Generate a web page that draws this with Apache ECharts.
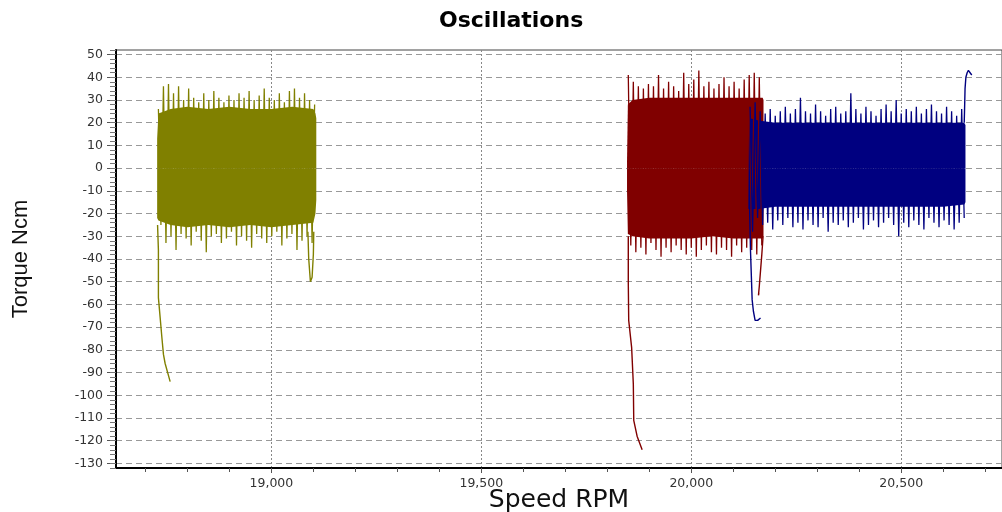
<!DOCTYPE html>
<html>
<head>
<meta charset="utf-8">
<title>Oscillations</title>
<script src="https://cdn.jsdelivr.net/npm/echarts@6/dist/echarts.min.js"></script>
<style>
  html, body { margin: 0; padding: 0; background: #fff; }
  #chart { width: 1002px; height: 512px; }
</style>
</head>
<body>
<div id="chart"></div>
<script>
// axis ticks
const speedLabels = [19000, 19500, 20000, 20500]
const speedMinor = [18700, 18800, 18900, 19000, 19100, 19200, 19300, 19400, 19500, 19600, 19700,
  19800, 19900, 20000, 20100, 20200, 20300, 20400, 20500, 20600, 20700]
const torqueLabels = [-130, -120, -110, -100, -90, -80, -70, -60, -50, -40, -30, -20, -10, 0, 10, 20, 30, 40, 50]

// olive run: dense body, oscillation peaks, run-in tail, end dip
const oliveBandSpeed = [18728, 18731, 18760, 18800, 18850, 18900, 18950, 19000, 19050, 19100, 19105, 19107]
const oliveBandHigh = [13, 24, 26, 27, 26, 27, 26, 26, 27, 26, 24, 22]
const oliveBandLow = [-22, -23, -25, -26, -25, -26, -25, -26, -25, -24, -20, -14]
const oliveSpeed = [
  18731, 18737, 18743, 18749, 18755, 18761, 18767, 18773, 18779, 18785,
  18791, 18797, 18803, 18809, 18815, 18821, 18827, 18833, 18839, 18845,
  18851, 18857, 18863, 18869, 18875, 18881, 18887, 18893, 18899, 18905,
  18911, 18917, 18923, 18929, 18935, 18941, 18947, 18953, 18959, 18965,
  18971, 18977, 18983, 18989, 18995, 19001, 19007, 19013, 19019, 19025,
  19031, 19037, 19043, 19049, 19055, 19061, 19067, 19073, 19079, 19085,
  19091, 19097, 19103]
const oliveTorque = [
  26, -25, 36, -33, 37, -30, 33, -36, 36, -29, 30, -31, 35, -34, 31, -28, 29, -32, 33, -37,
  30, -30, 34, -29, 31, -33, 29, -31, 32, -28, 30, -34, 33, -30, 31, -32, 34, -35, 30, -29,
  32, -31, 35, -33, 31, -30, 30, -28, 33, -34, 29, -31, 34, -29, 35, -36, 31, -32, 33, -30,
  30, -33, 28]
const oliveTailSpeed = [18729, 18731, 18731, 18739, 18743, 18747, 18759]
const oliveTailTorque = [-25, -36, -57, -74, -82, -86, -94]
const oliveDipSpeed = [19087, 19089, 19093, 19097, 19100, 19101]
const oliveDipTorque = [-28, -40, -50, -48, -38, -28]

// dark red run
const redBandSpeed = [19847, 19849, 19860, 19900, 19950, 20000, 20050, 20100, 20150, 20170, 20172]
const redBandHigh = [3, 28, 30, 31, 31, 31, 31, 31, 31, 31, 30]
const redBandLow = [-10, -29, -30, -31, -31, -31, -30, -31, -31, -31, -30]
const redSpeed = [
  19850, 19856, 19862, 19868, 19874, 19880, 19886, 19892, 19898, 19904,
  19910, 19916, 19922, 19928, 19934, 19940, 19946, 19952, 19958, 19964,
  19970, 19976, 19982, 19988, 19994, 20000, 20006, 20012, 20018, 20024,
  20030, 20036, 20042, 20048, 20054, 20060, 20066, 20072, 20078, 20084,
  20090, 20096, 20102, 20108, 20114, 20120, 20126, 20132, 20138, 20144,
  20150, 20156, 20162, 20168]
const redTorque = [
  41, -34, 38, -37, 36, -35, 35, -38, 37, -33, 36, -36, 41, -39, 35, -35, 38, -37, 36, -34,
  34, -36, 42, -38, 37, -35, 39, -39, 43, -36, 36, -34, 38, -37, 35, -38, 37, -35, 40, -36,
  36, -39, 38, -34, 35, -37, 39, -35, 41, -36, 42, -38, 40, -34]
const redTailSpeed = [19850, 19850, 19851, 19858, 19862, 19863, 19871, 19883]
const redTailTorque = [-30, -50, -67, -79, -95, -111, -118, -124]
const redDipSpeed = [20171, 20168, 20165, 20162, 20160, 20161]
const redDipTorque = [-30, -38, -45, -52, -56, -55]

// navy run
const blueBandSpeed = [20136, 20139, 20160, 20200, 20300, 20400, 20500, 20600, 20650, 20653]
const blueBandHigh = [17, 22, 21, 20, 20, 20, 20, 20, 20, 19]
const blueBandLow = [-18, -18, -18, -17, -17, -17, -17, -17, -16, -15]
const blueSpeed = [
  20140, 20146, 20152, 20158, 20164, 20170, 20176, 20182, 20188, 20194,
  20200, 20206, 20212, 20218, 20224, 20230, 20236, 20242, 20248, 20254,
  20260, 20266, 20272, 20278, 20284, 20290, 20296, 20302, 20308, 20314,
  20320, 20326, 20332, 20338, 20344, 20350, 20356, 20362, 20368, 20374,
  20380, 20386, 20392, 20398, 20404, 20410, 20416, 20422, 20428, 20434,
  20440, 20446, 20452, 20458, 20464, 20470, 20476, 20482, 20488, 20494,
  20500, 20506, 20512, 20518, 20524, 20530, 20536, 20542, 20548, 20554,
  20560, 20566, 20572, 20578, 20584, 20590, 20596, 20602, 20608, 20614,
  20620, 20626, 20632, 20638, 20644, 20650]
const blueTorque = [
  27, -28, 29, -22, 25, -25, 24, -24, 26, -27, 23, -23, 25, -25, 27, -22, 24, -26, 26, -24,
  31, -27, 25, -23, 24, -25, 28, -26, 25, -22, 23, -28, 26, -24, 27, -25, 24, -23, 25, -26,
  33, -24, 26, -22, 24, -27, 27, -25, 25, -23, 23, -26, 26, -24, 28, -22, 25, -25, 30, -30,
  24, -24, 26, -26, 25, -23, 27, -25, 24, -27, 26, -22, 28, -24, 25, -26, 24, -23, 27, -25,
  25, -27, 23, -24, 26, -22]
const blueTailSpeed = [20139, 20141, 20145, 20148, 20152, 20158, 20165]
const blueTailTorque = [-18, -36, -58, -63, -67, -67, -66]
const blueRiseSpeed = [20650, 20651, 20652, 20654, 20657, 20660, 20664, 20668]
const blueRiseTorque = [20, 27, 35, 40, 42, 43, 42, 41]

const OLIVE = '#808000'
const MAROON = '#800000'
const NAVY = '#000080'
const SANS = 'Liberation Sans, Arial, sans-serif'
const WIDE = 'DejaVu Sans, Verdana, sans-serif'

const zip = (xs, ys) => xs.map((x, i) => [x, ys[i]])

// body of a run: area from each envelope to the zero line, together they fill low..high
function band(name, xs, lo, hi, color) {
  return [lo, hi].map((ys, k) => ({
    type: 'line', name: name + (k ? 'High' : 'Low'),
    data: zip(xs, ys), symbol: 'none',
    lineStyle: { width: 0, opacity: 0 },
    areaStyle: { color: color, opacity: 1, origin: 0 }
  }))
}

function trace(name, xs, ys, color, width) {
  return {
    type: 'line', name: name, data: zip(xs, ys), symbol: 'none',
    lineStyle: { color: color, width: width }
  }
}

const minorTorque = []
for (let v = -132; v <= 52; v += 2) minorTorque.push(v)

const chart = echarts.init(document.getElementById('chart'))
chart.setOption({
  animation: false,
  backgroundColor: '#fff',
  title: {
    text: 'Oscillations',
    left: 434,
    top: 5,
    textStyle: { fontFamily: WIDE, fontSize: 22, fontWeight: 'bold', color: '#000' }
  },
  grid: {
    left: 116, right: 0, top: 50, bottom: 44,
    outerBoundsMode: 'none',
    show: true, borderColor: '#444', borderWidth: 1, backgroundColor: '#fff'
  },
  xAxis: [{
    type: 'value',
    min: 18630,
    max: 20740,
    position: 'bottom',
    name: 'Speed RPM',
    nameLocation: 'middle',
    nameGap: 20,
    nameMoveOverlap: false,
    nameTextStyle: { fontFamily: WIDE, fontSize: 25, color: '#111', verticalAlign: 'top' },
    axisLine: { show: true, onZero: false, lineStyle: { color: '#000', width: 2 } },
    axisTick: { show: true, customValues: speedLabels, length: 5, lineStyle: { color: '#555' } },
    axisLabel: {
      customValues: speedLabels,
      margin: 9,
      fontFamily: WIDE, fontSize: 12.5, color: '#333',
      formatter: v => v.toLocaleString('en-US')
    },
    splitLine: { show: true, lineStyle: { color: '#888', type: [2, 2], width: 1 } }
  }, {
    type: 'value',
    min: 18630,
    max: 20740,
    position: 'bottom',
    axisLine: { show: false, onZero: false },
    axisTick: { show: true, customValues: speedMinor, length: 4, lineStyle: { color: '#555' } },
    axisLabel: { show: false },
    splitLine: { show: false }
  }],
  yAxis: [{
    type: 'value',
    min: -132,
    max: 52,
    position: 'left',
    name: 'Torque Ncm',
    nameLocation: 'middle',
    nameGap: 84,
    nameMoveOverlap: false,
    nameTextStyle: { fontFamily: SANS, fontSize: 22, color: '#111' },
    axisLine: { show: true, onZero: false, lineStyle: { color: '#000', width: 2 } },
    axisTick: { show: true, customValues: torqueLabels, length: 9, lineStyle: { color: '#555' } },
    axisLabel: { customValues: torqueLabels, margin: 13, fontFamily: WIDE, fontSize: 12.5, color: '#333' },
    splitLine: { show: true, lineStyle: { color: '#999', type: [6, 4], width: 1 } }
  }, {
    type: 'value',
    min: -132,
    max: 52,
    position: 'left',
    axisLine: { show: false, onZero: false },
    axisTick: { show: true, customValues: minorTorque, length: 6, lineStyle: { color: '#777' } },
    axisLabel: { show: false },
    splitLine: { show: false }
  }],
  series: [
    ...band('oliveBand', oliveBandSpeed, oliveBandLow, oliveBandHigh, OLIVE),
    trace('olive', oliveSpeed, oliveTorque, OLIVE, 1.3),
    trace('oliveTail', oliveTailSpeed, oliveTailTorque, OLIVE, 1.4),
    trace('oliveDip', oliveDipSpeed, oliveDipTorque, OLIVE, 1.4),
    ...band('redBand', redBandSpeed, redBandLow, redBandHigh, MAROON),
    trace('red', redSpeed, redTorque, MAROON, 1.3),
    trace('redTail', redTailSpeed, redTailTorque, MAROON, 1.4),
    trace('redDip', redDipSpeed, redDipTorque, MAROON, 1.4),
    ...band('blueBand', blueBandSpeed, blueBandLow, blueBandHigh, NAVY),
    trace('blue', blueSpeed, blueTorque, NAVY, 1.3),
    trace('blueTail', blueTailSpeed, blueTailTorque, NAVY, 1.4),
    trace('blueRise', blueRiseSpeed, blueRiseTorque, NAVY, 1.4)
  ]
})
</script>
</body>
</html>
